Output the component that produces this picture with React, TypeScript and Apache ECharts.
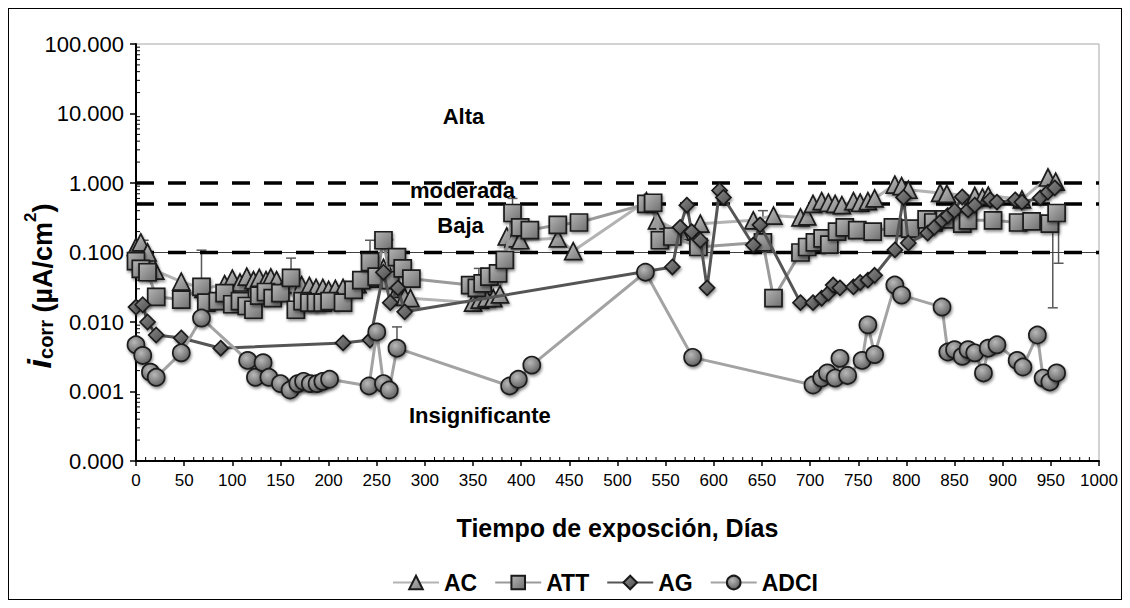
import React, { useEffect, useRef } from "react";
import * as echarts from "echarts";

// ---- Data (day, iCorr µA/cm²) ----
const AC_DATA: [number, number][] = [
  [0, 0.12], [5, 0.14], [12, 0.1], [20, 0.055], [47, 0.038], [70, 0.03], [92, 0.035], [100, 0.042],
  [108, 0.037], [115, 0.045], [122, 0.04], [128, 0.043], [135, 0.04], [140, 0.044], [146, 0.04],
  [155, 0.036], [165, 0.035], [172, 0.034], [180, 0.033], [187, 0.031], [194, 0.031], [200, 0.029],
  [207, 0.03], [215, 0.031], [230, 0.035], [243, 0.042], [250, 0.05], [257, 0.06], [264, 0.045],
  [272, 0.03], [279, 0.023], [285, 0.022], [350, 0.019], [357, 0.021], [364, 0.022], [371, 0.022],
  [378, 0.025], [385, 0.17], [392, 0.16], [399, 0.15], [438, 0.16], [454, 0.105], [530, 0.55],
  [541, 0.29], [565, 0.2], [586, 0.26], [641, 0.29], [662, 0.34], [690, 0.32], [697, 0.33],
  [703, 0.5], [712, 0.55], [719, 0.52], [726, 0.5], [733, 0.48], [745, 0.55], [752, 0.52],
  [760, 0.55], [767, 0.6], [788, 0.95], [795, 0.9], [802, 0.8], [835, 0.72], [842, 0.7],
  [871, 0.65], [879, 0.62], [885, 0.66], [920, 0.58], [947, 1.2], [955, 1.05],
];

const ATT_DATA: [number, number][] = [
  [0, 0.075], [5, 0.058], [12, 0.052], [21, 0.023], [47, 0.021], [68, 0.032], [73, 0.019],
  [85, 0.02], [92, 0.026], [100, 0.018], [108, 0.02], [115, 0.017], [122, 0.015], [128, 0.024],
  [135, 0.027], [142, 0.022], [150, 0.026], [161, 0.043], [166, 0.015], [173, 0.02], [180, 0.019],
  [187, 0.019], [194, 0.019], [201, 0.02], [215, 0.019], [226, 0.029], [234, 0.04], [243, 0.073],
  [250, 0.045], [257, 0.15], [264, 0.04], [271, 0.086], [277, 0.059], [286, 0.042], [347, 0.034],
  [354, 0.031], [360, 0.036], [367, 0.045], [376, 0.05], [383, 0.078], [391, 0.37], [399, 0.23],
  [409, 0.21], [438, 0.25], [460, 0.27], [530, 0.5], [537, 0.52], [544, 0.15], [557, 0.17],
  [584, 0.12], [651, 0.14], [662, 0.022], [690, 0.1], [697, 0.12], [705, 0.14], [713, 0.16],
  [720, 0.13], [728, 0.2], [736, 0.23], [749, 0.21], [765, 0.2], [786, 0.23], [804, 0.22],
  [821, 0.3], [828, 0.27], [840, 0.3], [858, 0.26], [864, 0.29], [890, 0.29], [916, 0.27],
  [930, 0.28], [949, 0.26], [956, 0.37],
];

const AG_DATA: [number, number][] = [
  [0, 0.0164], [7, 0.0177], [12, 0.01], [21, 0.0065], [47, 0.0059], [88, 0.0042], [215, 0.005],
  [243, 0.0055], [257, 0.052], [264, 0.019], [272, 0.031], [279, 0.014], [557, 0.062], [565, 0.23],
  [572, 0.48], [577, 0.2], [586, 0.15], [593, 0.031], [606, 0.78], [610, 0.62], [641, 0.128],
  [648, 0.25], [690, 0.019], [703, 0.019], [712, 0.022], [719, 0.026], [724, 0.034], [731, 0.031],
  [745, 0.032], [752, 0.037], [760, 0.04], [767, 0.047], [788, 0.109], [797, 0.62], [802, 0.137],
  [822, 0.19], [829, 0.23], [837, 0.29], [843, 0.34], [850, 0.4], [858, 0.63], [864, 0.41],
  [871, 0.48], [887, 0.57], [894, 0.53], [913, 0.57], [920, 0.53], [939, 0.61], [947, 0.74],
  [954, 0.85],
];

const ADCI_DATA: [number, number][] = [
  [0, 0.0047], [7, 0.0033], [15, 0.0019], [21, 0.0016], [47, 0.0036], [68, 0.0114], [116, 0.0028],
  [124, 0.0016], [132, 0.0026], [138, 0.0016], [150, 0.0013], [160, 0.00105], [168, 0.0013],
  [174, 0.0014], [181, 0.0013], [188, 0.0013], [194, 0.0014], [201, 0.0015], [242, 0.0012],
  [250, 0.0072], [257, 0.0013], [263, 0.00105], [271, 0.0042], [388, 0.0012], [397, 0.0015],
  [411, 0.0024], [529, 0.052], [578, 0.0031], [703, 0.00124], [712, 0.00156], [718, 0.00185],
  [726, 0.00156], [731, 0.003], [739, 0.0017], [754, 0.0028], [760, 0.0091], [767, 0.0034],
  [788, 0.034], [795, 0.0244], [837, 0.0164], [843, 0.0037], [850, 0.004], [858, 0.0032],
  [864, 0.004], [871, 0.0036], [880, 0.00185], [885, 0.0042], [894, 0.0047], [915, 0.0028],
  [921, 0.00225], [936, 0.0065], [942, 0.00156], [949, 0.00137], [956, 0.00185],
];

// error bars: [day, low, high]
const ERROR_BARS: [number, number, number][] = [
  [8, 0.12, 0.15], [68, 0.032, 0.108], [161, 0.043, 0.083], [243, 0.073, 0.15], [262, 0.15, 0.155],
  [271, 0.0042, 0.0085], [356, 0.031, 0.059], [391, 0.37, 0.6], [651, 0.14, 0.4],
  [952, 0.016, 0.26], [958, 0.07, 0.37],
];

// thresholds (µA/cm²)
const THRESHOLDS = [1, 0.5, 0.1];
const ZONE_NAMES = ["Alta", "moderada", "Baja", "Insignificante"];
const ZONE_DAYS = [340, 339, 337, 357];
const ZONE_VALUES = [9.2, 0.78, 0.245, 0.00045];

const SERIES_NAMES = ["AC", "ATT", "AG", "ADCI"];
const Y_MULTIPLIERS = [2, 3, 4, 5, 6, 7, 8, 9];
const Y_DECADES = [-4, -3, -2, -1, 0, 1];
const X_MINOR_STEP = 10;
const X_MIN = 0;
const X_MAX = 1000;

const grad = (light: string, dark: string) =>
  new echarts.graphic.LinearGradient(0, 0, 1, 1, [
    { offset: 0, color: light },
    { offset: 1, color: dark },
  ]);
const radial = (light: string, dark: string) =>
  new echarts.graphic.RadialGradient(0.4, 0.35, 0.7, [
    { offset: 0, color: light },
    { offset: 1, color: dark },
  ]);

export default function App() {
  const ref = useRef<HTMLDivElement>(null);
  useEffect(() => {
    if (!ref.current) return;
    const chart = echarts.init(ref.current, undefined, { renderer: "svg" });

    const yMinor: [number, number][] = [];
    Y_DECADES.forEach((e) => Y_MULTIPLIERS.forEach((m) => yMinor.push([0, m * Math.pow(10, e)])));
    const xMinor: [number, number][] = [];
    for (let d = X_MINOR_STEP; d < X_MAX; d += X_MINOR_STEP) if (d % 50 !== 0) xMinor.push([d, 0.0001]);

    const shadow = {
      shadowBlur: 3,
      shadowColor: "rgba(0,0,0,0.45)",
      shadowOffsetX: 1,
      shadowOffsetY: 2,
    };
    const font = "Arial, 'Liberation Sans', sans-serif";

    const lineSeries = (
      name: string,
      data: [number, number][],
      symbol: string,
      size: number,
      lineColor: string,
      fill: any,
      z: number
    ) => ({
      name,
      type: "line",
      data,
      symbol,
      symbolSize: size,
      z,
      lineStyle: { color: lineColor, width: 3 },
      itemStyle: { color: fill, borderColor: "#1a1a1a", borderWidth: 1.7, ...shadow },
      emphasis: { disabled: true },
    });

    const thresholdSeries = THRESHOLDS.map((t) => ({
      name: "thr" + t,
      type: "line",
      data: [[X_MIN, t], [X_MAX, t]],
      symbol: "none",
      silent: true,
      z: 3,
      lineStyle: { color: "#000", width: 3.5, type: [18, 14] },
    }));

    chart.setOption({
      animation: false,
      textStyle: { fontFamily: font },
      grid: {
        left: 127,
        right: 22,
        top: 35,
        bottom: 138,
        containLabel: false,
        outerBoundsMode: "none",
        show: true,
        borderColor: "#a6a6a6",
        borderWidth: 1,
      },
      legend: {
        data: SERIES_NAMES,
        top: 557,
        left: 378,
        itemWidth: 46,
        itemHeight: 17,
        itemGap: 17,
        textStyle: { fontSize: 23, fontWeight: "bold", color: "#000", fontFamily: font },
      },
      xAxis: {
        type: "value",
        min: X_MIN,
        max: X_MAX,
        interval: 50,
        axisLine: { show: true, lineStyle: { color: "#000", width: 2 } },
        axisTick: { show: true, length: 5, lineStyle: { color: "#000", width: 1.5 } },
        splitLine: { show: false },
        axisLabel: {
          fontSize: 17,
          color: "#000",
          margin: 11,
          fontFamily: font,
          formatter: (v: number) => String(v),
        },
        name: "Tiempo de exposción, Días",
        nameLocation: "middle",
        nameGap: 54,
        nameTextStyle: { fontSize: 25, fontWeight: "bold", color: "#000", fontFamily: font },
      },
      yAxis: {
        type: "log",
        logBase: 10,
        min: 0.0001,
        max: 100,
        splitNumber: 6,
        axisLine: { show: true, lineStyle: { color: "#000", width: 2 } },
        axisTick: { show: true, length: 6, lineStyle: { color: "#000", width: 1.5 } },
        splitLine: { show: false },
        axisLabel: {
          fontSize: 22,
          color: "#000",
          margin: 12,
          fontFamily: font,
          formatter: (v: number) => v.toFixed(3),
        },
      },
      series: [
        ...thresholdSeries,
        {
          name: "thr0.1-thin",
          type: "line",
          data: [[X_MIN, 0.1], [X_MAX, 0.1]],
          symbol: "none",
          silent: true,
          z: 2,
          lineStyle: { color: "#404040", width: 1.2 },
        },
        {
          name: "errorbars",
          type: "custom",
          z: 2,
          silent: true,
          data: ERROR_BARS,
          encode: { x: 0, y: [1, 2] },
          renderItem: (params: any, api: any) => {
            const lo = api.coord([api.value(0), api.value(1)]);
            const hi = api.coord([api.value(0), api.value(2)]);
            const st = { stroke: "#595959", lineWidth: 1.5 };
            return {
              type: "group",
              children: [
                { type: "line", shape: { x1: lo[0], y1: lo[1], x2: hi[0], y2: hi[1] }, style: st },
                { type: "line", shape: { x1: hi[0] - 5, y1: hi[1], x2: hi[0] + 5, y2: hi[1] }, style: st },
                { type: "line", shape: { x1: lo[0] - 5, y1: lo[1], x2: lo[0] + 5, y2: lo[1] }, style: st },
              ],
            };
          },
        },
        {
          name: "yminor",
          type: "custom",
          silent: true,
          z: 5,
          clip: false,
          data: yMinor,
          renderItem: (params: any, api: any) => {
            const p = api.coord([0, api.value(1)]);
            return {
              type: "line",
              shape: { x1: p[0], y1: p[1], x2: p[0] + 4, y2: p[1] },
              style: { stroke: "#000", lineWidth: 1 },
            };
          },
        },
        {
          name: "xminor",
          type: "custom",
          silent: true,
          z: 5,
          clip: false,
          data: xMinor,
          renderItem: (params: any, api: any) => {
            const p = api.coord([api.value(0), 0.0001]);
            return {
              type: "line",
              shape: { x1: p[0], y1: p[1], x2: p[0], y2: p[1] - 4 },
              style: { stroke: "#000", lineWidth: 1 },
            };
          },
        },
        lineSeries("AC", AC_DATA, "triangle", 17, "#b3b3b3", grad("#c4c4c4", "#7a7a7a"), 10),
        lineSeries("ATT", ATT_DATA, "rect", 17, "#9a9a9a", grad("#b5b5b5", "#6f6f6f"), 11),
        lineSeries("AG", AG_DATA, "diamond", 15, "#555555", grad("#8a8a8a", "#4d4d4d"), 12),
        lineSeries("ADCI", ADCI_DATA, "circle", 17, "#a3a3a3", radial("#b8b8b8", "#5e5e5e"), 13),
      ],
    });

    // y-axis title (rotated rich text)
    const yTitle = {
      id: "ytitle",
      type: "text",
      x: 30,
      y: 277,
      rotation: Math.PI / 2,
      silent: true,
      style: {
        text: "{i|i}{sub|corr}{n| (µA/cm}{sup|2}{n|)}",
        align: "center",
        verticalAlign: "middle",
        fill: "#000",
        rich: {
          i: { fontSize: 34, fontWeight: "bold", fontStyle: "italic", fontFamily: font, fill: "#000", verticalAlign: "bottom", lineHeight: 34 },
          sub: { fontSize: 20, fontWeight: "bold", fontFamily: font, fill: "#000", verticalAlign: "bottom", lineHeight: 20 },
          n: { fontSize: 27, fontWeight: "bold", fontFamily: font, fill: "#000", verticalAlign: "bottom", lineHeight: 34 },
          sup: { fontSize: 17, fontWeight: "bold", fontFamily: font, fill: "#000", verticalAlign: "top", lineHeight: 17 },
        },
      },
    };

    // zone labels placed through the axes' scales
    const texts = ZONE_NAMES.map((name, i) => {
      const p = chart.convertToPixel({ gridIndex: 0 }, [ZONE_DAYS[i], ZONE_VALUES[i]]) as number[];
      return {
        id: "zone" + i,
        type: "text",
        x: p[0],
        y: p[1],
        z: 100,
        silent: true,
        style: {
          text: name,
          fontSize: 22,
          fontWeight: "bold",
          fontFamily: font,
          fill: "#000",
          align: "center",
          verticalAlign: "middle",
        },
      };
    });
    chart.setOption({ graphic: [yTitle, ...texts] });

    return () => chart.dispose();
  }, []);
  return (
    <div
      ref={ref}
      style={{ width: 1114, height: 592, border: "1px solid #000", boxSizing: "border-box" }}
    />
  );
}
